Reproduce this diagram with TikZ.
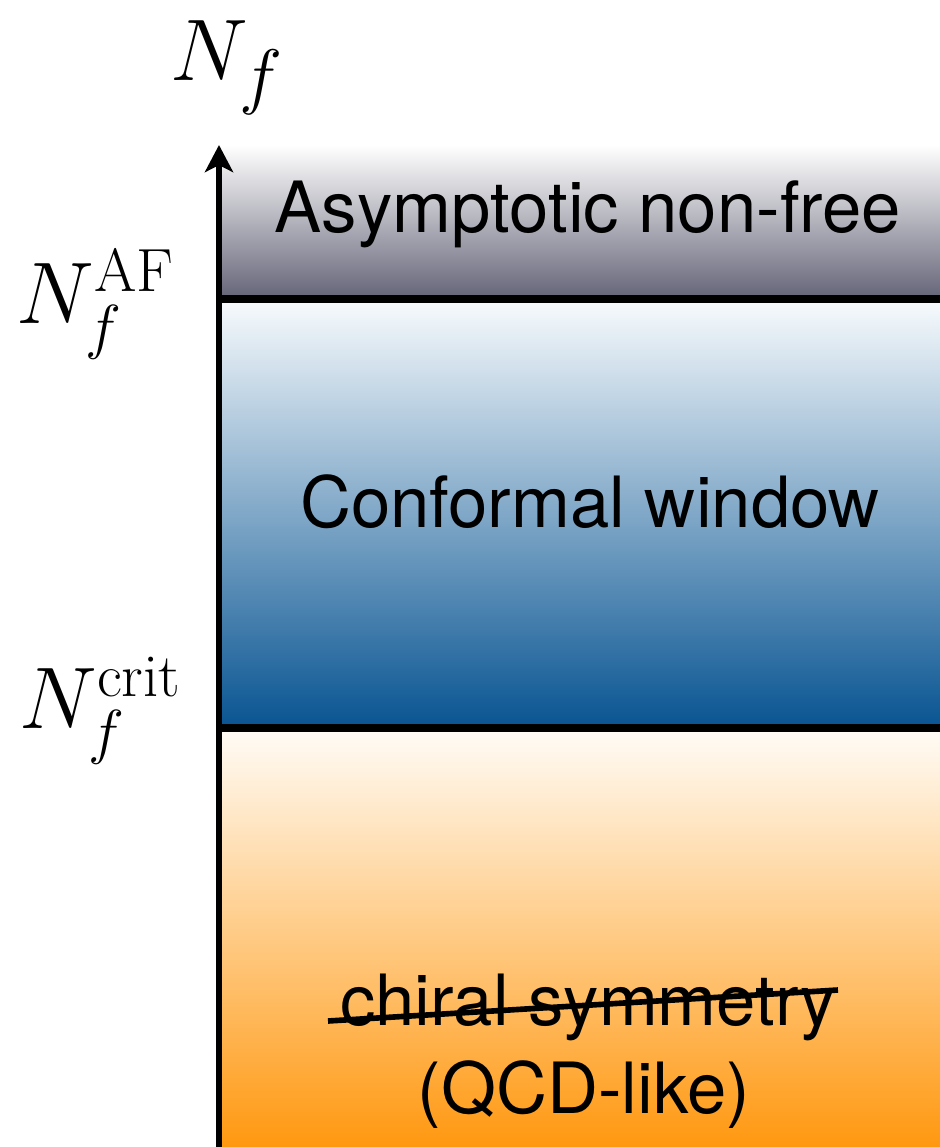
\documentclass[tikz,border=0pt]{standalone}
\usepackage{amsmath}
\usepackage{xcolor}
\usepackage{fontspec}
\newfontfamily\bandfont{TeX Gyre Heros}
\usetikzlibrary{arrows.meta,positioning,calc}

\definecolor{nonfreeBot}{RGB}{100,100,120}
\definecolor{confTop}{RGB}{248,251,253}
\definecolor{confBot}{RGB}{8,84,146}
\definecolor{qcdTop}{RGB}{255,252,247}
\definecolor{qcdBot}{RGB}{255,152,16}

\begin{document}
\begin{tikzpicture}[
    x=0.01cm, y=-0.01cm,
    >=Stealth,
    phase/.style={anchor=base, font=\bandfont\fontsize{20.1}{24}\selectfont},
    level/.style={anchor=base west, font=\fontsize{24.8}{29}\selectfont},
    border/.style={line width=2.3pt},
    axis/.style={->, line width=1.7pt}
]
    \useasboundingbox (0,0) rectangle (940,1147);

    % Phase bands
    \shade[top color=white, bottom color=nonfreeBot] (220,145) rectangle (940,299);
    \shade[top color=confTop, bottom color=confBot] (220,299) rectangle (940,728);
    \shade[top color=qcdTop, bottom color=qcdBot] (220,728) rectangle (940,1147);

    % Boundaries
    \coordinate (afL) at (219,299);
    \coordinate (afR) at (940,299);
    \coordinate (crL) at (219,728);
    \coordinate (crR) at (940,728);
    \draw[border] (afL) -- (afR);
    \draw[border] (crL) -- (crR);

    % Axis
    \coordinate (axisBot) at (219,1147);
    \coordinate (axisTop) at (219,145);
    \draw[axis, -{Stealth[length=7.7pt,width=8pt,inset=2pt]}] (axisBot) -- (axisTop);

    % Axis labels
    \node[level, font=\fontsize{28.5}{33}\selectfont] (nf) at (158,80) {$N_f$};
    \node[level] (nfaf) at (4,323) {$N_f^{\mathrm{AF}}$};
    \node[level] (nfcrit) at (7,728) {$N_f^{\mathrm{crit}}$};

    % Phase labels
    \node[phase] (nonfree) at (588,232) {Asymptotic non-free};
    \node[phase] (conformal) at (590,527) {Conformal window};
    \node[phase] (chiral) at (588,1025) {chiral symmetry};
    \node[phase] (qcd) at (584,1113) {(QCD-like)};

    % Broken symmetry
    \coordinate (strikeL) at (328,1021);
    \coordinate (strikeR) at (838,990);
    \draw[line width=1.6pt] (strikeL) -- (strikeR);

\end{tikzpicture}
\end{document}
